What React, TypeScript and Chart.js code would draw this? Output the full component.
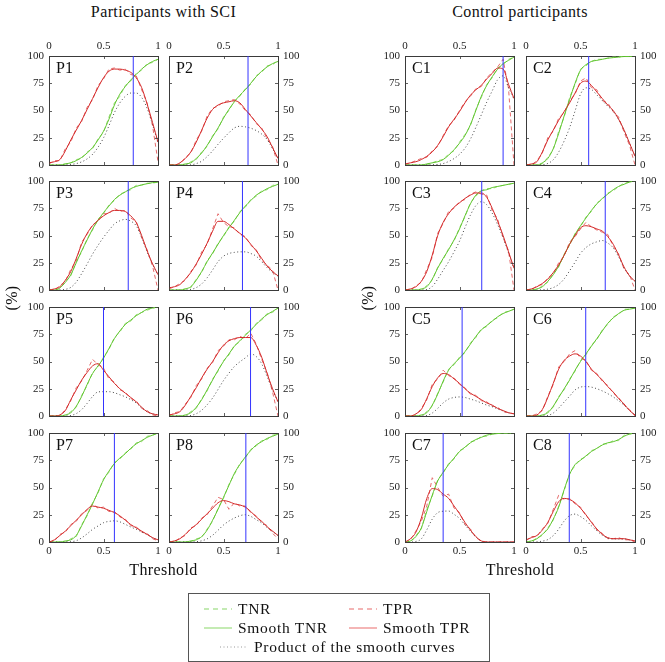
import { useEffect, useRef } from 'react'
import { Chart, registerables } from 'chart.js'

Chart.register(...registerables)

// thresholds shared by every panel
const THRESHOLDS = [0, 0.05, 0.1, 0.15, 0.2, 0.25, 0.3, 0.35, 0.4, 0.45, 0.5, 0.55, 0.6, 0.65, 0.7, 0.75, 0.8, 0.85, 0.9, 0.95, 1]
const X_TICKS = [0, 0.5, 1]
const Y_TICKS = [0, 25, 50, 75, 100]

// ---- participants with SCI ----
const P1_TNR_RAW = [0, 0, 0, 1, 2, 5, 6, 12, 15, 24, 30, 44, 57, 63, 73, 77, 84, 87, 93, 94, 97]
const P1_TPR_RAW = [1, 4, 4, 15, 21, 34, 40, 53, 60, 73, 79, 88, 89, 87, 88, 83, 82, 69, 57, 36, 3]
const P1_TNR = [0, 0, 0, 1, 2, 4, 7, 11, 16, 23, 31, 42, 55, 65, 72, 78, 83, 88, 92, 95, 97]
const P1_TPR = [2, 3, 5, 13, 23, 32, 41, 51, 61, 71, 80, 86, 88, 88, 87, 85, 80, 71, 56, 39, 21]
const P1_PROD = [0, 0, 0, 0.1, 0.5, 1.3, 2.9, 5.6, 9.8, 16.3, 24.8, 36, 48, 57, 63, 66, 66, 62, 52, 37, 20]

const P2_TNR_RAW = [0, 0, 0, 0, 3, 5, 12, 17, 27, 33, 44, 50, 59, 63, 70, 74, 82, 85, 91, 92, 96]
const P2_TPR_RAW = [0, 0, 1, 7, 11, 23, 31, 45, 52, 54, 58, 59, 60, 56, 50, 46, 38, 34, 24, 17, 0]
const P2_TNR = [0, 0, 0, 1, 2, 6, 11, 18, 26, 34, 43, 51, 58, 64, 69, 75, 81, 86, 90, 93, 95]
const P2_TPR = [0, 0, 2, 6, 12, 21, 32, 43, 51, 55, 57, 58, 59, 57, 51, 45, 39, 33, 26, 16, 6]
const P2_PROD = [0, 0, 0, 0.1, 0.2, 1.3, 3.5, 7.7, 13, 19, 24.5, 29.6, 34, 35.5, 35, 33.8, 31.6, 28.4, 23.4, 14.9, 5.7]

const P3_TNR_RAW = [0, 0, 1, 8, 13, 26, 35, 47, 55, 65, 70, 78, 82, 88, 90, 92, 96, 96, 98, 98, 99]
const P3_TPR_RAW = [0, 0, 4, 8, 19, 27, 44, 51, 60, 63, 70, 70, 75, 72, 73, 66, 63, 48, 37, 22, 0]
const P3_TNR = [0, 0, 2, 7, 14, 25, 36, 46, 56, 64, 71, 77, 83, 87, 90, 93, 95, 96.5, 97.5, 98.5, 99]
const P3_TPR = [0, 1, 3, 9, 17, 29, 42, 52, 59, 64, 68, 71, 73, 73, 72, 68, 62, 50, 36, 24, 14]
const P3_PROD = [0, 0, 0.1, 0.6, 2.4, 7.3, 15.1, 23.9, 33, 41, 48.3, 54.7, 60.6, 63.5, 64.8, 63.2, 58.9, 48.3, 35.1, 23.6, 13.9]

const P4_TNR_RAW = [0, 0, 0, 1, 2, 10, 16, 27, 33, 43, 49, 58, 63, 72, 76, 83, 86, 91, 92, 96, 97]
const P4_TPR_RAW = [1, 3, 6, 9, 17, 23, 35, 42, 56, 70, 62, 58, 57, 51, 49, 41, 37, 27, 23, 18, 0]
const P4_TNR = [0, 0, 0, 1, 3, 9, 17, 26, 34, 42, 50, 57, 64, 71, 77, 82, 87, 90, 93, 95, 97]
const P4_TPR = [2, 3, 5, 10, 16, 24, 33, 43, 54, 63, 63, 60, 56, 52, 48, 42, 36, 29, 22, 17, 13]
const P4_PROD = [0, 0, 0, 0.1, 0.5, 2.2, 5.6, 11.2, 18.4, 26, 31, 33.5, 34.5, 35, 35, 33.5, 31, 26, 20.5, 16.2, 12.6]

const P5_TNR_RAW = [0, 0, 0, 0, 4, 8, 19, 28, 40, 45, 54, 61, 72, 77, 85, 87, 93, 95, 97, 99, 100]
const P5_TPR_RAW = [0, 0, 0, 6, 14, 26, 32, 42, 52, 47, 44, 34, 31, 24, 22, 16, 14, 7, 5, 1, 0]
const P5_TNR = [0, 0, 0, 1, 3, 9, 18, 29, 39, 46, 53, 62, 71, 78, 84, 88, 92, 95, 98, 99, 100]
const P5_TPR = [0, 0, 1, 5, 15, 24, 33, 40, 46, 48, 42, 36, 30, 25, 21, 17, 13, 8, 4, 2, 1]
const P5_PROD = [0, 0, 0, 0, 0.5, 2.2, 5.9, 11.6, 17.9, 22.1, 22.3, 22.3, 21.3, 19.5, 17.6, 15, 12, 7.6, 3.9, 2, 1]

const P6_TNR_RAW = [0, 0, 0, 0, 4, 7, 16, 23, 34, 41, 51, 56, 65, 68, 75, 78, 85, 88, 94, 95, 99]
const P6_TPR_RAW = [0, 3, 4, 11, 17, 28, 34, 44, 49, 60, 64, 70, 70, 73, 71, 76, 66, 52, 40, 22, 0]
const P6_TNR = [0, 0, 0, 1, 3, 8, 15, 24, 33, 42, 50, 57, 64, 69, 74, 79, 84, 89, 93, 96, 99]
const P6_TPR = [1, 2, 4, 10, 18, 26, 35, 43, 50, 58, 65, 69, 71, 72, 72, 72, 65, 54, 39, 25, 13]
const P6_PROD = [0, 0, 0, 0.1, 0.5, 2.1, 5.3, 10.3, 16.5, 24.4, 32.5, 39.3, 45.4, 49.7, 53.3, 56.9, 54.6, 48, 36.3, 24, 12.9]

const P7_TNR_RAW = [0, 0, 0, 0, 3, 5, 16, 24, 36, 45, 58, 64, 73, 76, 82, 85, 91, 92, 97, 98, 100]
const P7_TPR_RAW = [0, 1, 7, 9, 16, 19, 26, 29, 35, 31, 32, 28, 28, 23, 21, 15, 14, 9, 8, 3, 1]
const P7_TNR = [0, 0, 0, 1, 2, 6, 15, 25, 35, 46, 57, 65, 72, 77, 81, 86, 90, 93, 96, 98, 100]
const P7_TPR = [0, 2, 6, 10, 15, 20, 25, 30, 33, 32, 31, 29, 27, 24, 20, 16, 13, 10, 7, 4, 2]
const P7_PROD = [0, 0, 0, 0.1, 0.3, 1.2, 3.8, 7.5, 11.6, 14.7, 17.7, 18.9, 19.4, 18.5, 16.2, 13.8, 11.7, 9.3, 6.7, 3.9, 2]

const P8_TNR_RAW = [0, 0, 0, 0, 0, 3, 4, 12, 19, 31, 40, 53, 62, 72, 77, 85, 88, 93, 94, 98, 99]
const P8_TPR_RAW = [0, 0, 4, 6, 13, 15, 22, 25, 33, 41, 39, 30, 36, 33, 33, 27, 24, 18, 15, 8, 3]
const P8_TNR = [0, 0, 0, 0, 1, 2, 5, 11, 20, 30, 41, 52, 63, 71, 78, 84, 89, 92, 95, 97, 99]
const P8_TPR = [0, 1, 3, 7, 12, 16, 21, 26, 31, 36, 38, 37, 35, 34, 32, 28, 23, 19, 14, 10, 6]
const P8_PROD = [0, 0, 0, 0, 0.1, 0.3, 1.1, 2.9, 6.2, 10.8, 15.6, 19.2, 22, 24.1, 25, 23.5, 20.5, 17.5, 13.3, 9.7, 5.9]

// ---- control participants ----
const C1_TNR_RAW = [0, 0, 0, 0, 0, 2, 4, 5, 10, 13, 21, 28, 36, 51, 62, 74, 80, 89, 92, 97, 99]
const C1_TPR_RAW = [0, 2, 4, 6, 7, 13, 17, 27, 36, 41, 50, 58, 63, 70, 72, 80, 85, 90, 97, 70, 0]
const C1_TNR = [0, 0, 0, 0, 1, 2, 3, 5, 9, 14, 20, 27, 37, 50, 63, 73, 81, 88, 93, 96, 99]
const C1_TPR = [1, 2, 3, 5, 8, 12, 18, 26, 35, 42, 49, 57, 64, 69, 73, 79, 84, 89, 88, 74, 61]
const C1_PROD = [0, 0, 0, 0, 0.1, 0.2, 0.5, 1.3, 3.2, 5.9, 9.8, 15.4, 23.7, 34.5, 46, 57.7, 68, 78.3, 81.8, 71, 60.4]

const C2_TNR_RAW = [0, 0, 0, 1, 7, 14, 31, 44, 62, 74, 88, 91, 95, 97, 97, 98, 99, 99, 100, 100, 100]
const C2_TPR_RAW = [0, 0, 4, 11, 25, 31, 43, 48, 59, 65, 77, 80, 71, 69, 59, 57, 49, 44, 30, 18, 0]
const C2_TNR = [0, 0, 0, 2, 6, 15, 29, 45, 60, 75, 87, 92, 95, 96, 97, 98, 98.5, 99, 99.5, 99.5, 100]
const C2_TPR = [0, 1, 3, 12, 23, 32, 41, 49, 57, 66, 75, 77, 73, 67, 61, 55, 50, 42, 32, 20, 8]
const C2_PROD = [0, 0, 0, 0.2, 1.4, 4.8, 11.9, 22, 34.2, 49.5, 65, 70.8, 69.4, 64.3, 59.2, 53.9, 49.3, 41.6, 31.8, 19.9, 8]

const C3_TNR_RAW = [0, 0, 0, 0, 4, 9, 21, 28, 38, 45, 57, 67, 80, 86, 91, 93, 93, 95, 96, 97, 98]
const C3_TPR_RAW = [0, 0, 4, 7, 19, 30, 52, 61, 72, 75, 81, 83, 88, 90, 88, 87, 73, 65, 48, 36, 0]
const C3_TNR = [0, 0, 0, 1, 3, 10, 20, 29, 37, 46, 56, 68, 79, 87, 91, 92, 94, 95, 96, 97, 98]
const C3_TPR = [0, 1, 3, 8, 17, 32, 50, 62, 70, 76, 80, 84, 87, 89, 89, 85, 75, 63, 50, 35, 20]
const C3_PROD = [0, 0, 0, 0.1, 0.5, 3.2, 10, 18, 25.9, 35, 44.8, 57.1, 68.7, 77.4, 81, 78.2, 70.5, 59.9, 48, 34, 19.6]

const C4_TNR_RAW = [0, 0, 0, 4, 7, 15, 21, 33, 41, 52, 58, 67, 72, 80, 83, 89, 91, 95, 98, 99, 100]
const C4_TPR_RAW = [0, 0, 4, 5, 11, 15, 25, 31, 44, 49, 56, 62, 58, 55, 53, 51, 40, 33, 19, 14, 0]
const C4_TNR = [0, 0, 1, 3, 8, 14, 22, 32, 42, 51, 59, 66, 73, 79, 84, 88, 92, 95, 97, 99, 100]
const C4_TPR = [0, 1, 3, 6, 10, 16, 23, 32, 42, 50, 57, 59, 58, 56, 54, 49, 42, 32, 21, 13, 8]
const C4_PROD = [0, 0, 0, 0.2, 0.8, 2.2, 5.1, 10.2, 17.6, 25.5, 33.6, 38.9, 42.3, 44.2, 45.4, 43.1, 38.6, 30.4, 20.4, 12.9, 8]

const C5_TNR_RAW = [0, 0, 0, 0, 4, 9, 21, 31, 43, 47, 54, 58, 67, 72, 80, 82, 88, 90, 95, 96, 98]
const C5_TPR_RAW = [0, 0, 1, 7, 15, 29, 34, 42, 37, 35, 29, 26, 20, 19, 14, 13, 9, 8, 4, 3, 2]
const C5_TNR = [0, 0, 0, 1, 3, 10, 20, 32, 42, 48, 53, 59, 66, 73, 79, 83, 87, 91, 94, 96, 98]
const C5_TPR = [0, 0, 2, 6, 16, 27, 35, 39, 38, 34, 30, 25, 21, 18, 15, 12, 10, 7, 5, 3, 2]
const C5_PROD = [0, 0, 0, 0.1, 0.5, 2.7, 7, 12, 15.5, 17, 17.5, 17, 15.5, 14, 12, 10, 8.5, 6.5, 4.7, 3, 2]

const C6_TNR_RAW = [0, 0, 0, 0, 4, 8, 18, 24, 34, 41, 51, 56, 65, 70, 79, 84, 91, 93, 98, 98, 99]
const C6_TPR_RAW = [0, 0, 2, 5, 18, 29, 45, 50, 57, 60, 53, 51, 42, 39, 32, 28, 21, 17, 10, 6, 0]
const C6_TNR = [0, 0, 0, 1, 3, 9, 17, 25, 33, 42, 50, 57, 64, 71, 78, 85, 90, 94, 97, 98, 99]
const C6_TPR = [0, 0, 1, 6, 17, 30, 43, 51, 55, 57, 55, 50, 43, 38, 33, 27, 22, 16, 11, 5, 1]
const C6_PROD = [0, 0, 0, 0.1, 0.5, 2.7, 7.3, 12.8, 18.2, 23.9, 26.5, 27, 26.5, 25, 23, 20.5, 17.5, 14, 10, 4.9, 1]

const C7_TNR_RAW = [0, 0, 6, 12, 30, 42, 57, 63, 72, 76, 84, 86, 92, 93, 97, 97, 99, 100, 100, 100, 100]
const C7_TPR_RAW = [0, 2, 10, 19, 33, 59, 50, 42, 44, 31, 27, 16, 12, 4, 1, 0, 0, 0, 0, 0, 0]
const C7_TNR = [0, 1, 5, 13, 28, 43, 56, 64, 71, 77, 83, 87, 91, 94, 96, 98, 99, 99.5, 100, 100, 100]
const C7_TPR = [0, 3, 9, 22, 40, 49, 48, 44, 40, 33, 26, 18, 11, 5, 1, 0, 0, 0, 0, 0, 0]
const C7_PROD = [0, 0, 0.5, 2.9, 11.2, 21, 26.9, 28.2, 28.4, 25.4, 21.6, 15.7, 10, 4.7, 1, 0, 0, 0, 0, 0, 0]

const C8_TNR_RAW = [0, 0, 4, 6, 13, 20, 33, 47, 63, 70, 76, 78, 84, 85, 90, 90, 93, 93, 98, 99, 100]
const C8_TPR_RAW = [1, 5, 5, 12, 17, 30, 43, 39, 40, 35, 32, 24, 19, 11, 8, 3, 3, 4, 2, 2, 0]
const C8_TNR = [0, 1, 3, 7, 12, 21, 32, 48, 62, 71, 75, 79, 83, 86, 89, 91, 92, 94, 97, 99, 100]
const C8_TPR = [2, 4, 6, 11, 18, 28, 37, 40, 39, 36, 31, 25, 18, 12, 7, 4, 3, 3, 3, 2, 1]
const C8_PROD = [0, 0, 0.2, 0.8, 2.2, 5.9, 11.8, 19.2, 24.2, 25.6, 23.3, 19.8, 14.9, 10.3, 6.2, 3.6, 2.8, 2.8, 2.9, 2, 1]

// chosen threshold per panel (vertical line)
const SCI_CUTOFFS = [0.773, 0.725, 0.727, 0.674, 0.5, 0.748, 0.6, 0.705]
const CONTROL_CUTOFFS = [0.9, 0.575, 0.704, 0.727, 0.524, 0.548, 0.35, 0.397]

const SCI_NAMES = ['P1', 'P2', 'P3', 'P4', 'P5', 'P6', 'P7', 'P8']
const CONTROL_NAMES = ['C1', 'C2', 'C3', 'C4', 'C5', 'C6', 'C7', 'C8']

const SCI_SERIES = [
  [P1_TNR_RAW, P1_TPR_RAW, P1_TNR, P1_TPR, P1_PROD],
  [P2_TNR_RAW, P2_TPR_RAW, P2_TNR, P2_TPR, P2_PROD],
  [P3_TNR_RAW, P3_TPR_RAW, P3_TNR, P3_TPR, P3_PROD],
  [P4_TNR_RAW, P4_TPR_RAW, P4_TNR, P4_TPR, P4_PROD],
  [P5_TNR_RAW, P5_TPR_RAW, P5_TNR, P5_TPR, P5_PROD],
  [P6_TNR_RAW, P6_TPR_RAW, P6_TNR, P6_TPR, P6_PROD],
  [P7_TNR_RAW, P7_TPR_RAW, P7_TNR, P7_TPR, P7_PROD],
  [P8_TNR_RAW, P8_TPR_RAW, P8_TNR, P8_TPR, P8_PROD],
]
const CONTROL_SERIES = [
  [C1_TNR_RAW, C1_TPR_RAW, C1_TNR, C1_TPR, C1_PROD],
  [C2_TNR_RAW, C2_TPR_RAW, C2_TNR, C2_TPR, C2_PROD],
  [C3_TNR_RAW, C3_TPR_RAW, C3_TNR, C3_TPR, C3_PROD],
  [C4_TNR_RAW, C4_TPR_RAW, C4_TNR, C4_TPR, C4_PROD],
  [C5_TNR_RAW, C5_TPR_RAW, C5_TNR, C5_TPR, C5_PROD],
  [C6_TNR_RAW, C6_TPR_RAW, C6_TNR, C6_TPR, C6_PROD],
  [C7_TNR_RAW, C7_TPR_RAW, C7_TNR, C7_TPR, C7_PROD],
  [C8_TNR_RAW, C8_TPR_RAW, C8_TNR, C8_TPR, C8_PROD],
]

const FONT = '"Liberation Serif", "Times New Roman", serif'
const GREEN = '#5fc52e'
const GREEN_LIGHT = '#98dc74'
const RED = '#d42a2a'
const RED_LIGHT = '#e56a6a'
const BLUE = '#3434ff'
const FRAME = '#3a3a3a'

Chart.defaults.font.family = FONT

const SIZE = 109 // plot area, px
const M = 30 // room around the plot area for the axes
const ROW_TOPS = [56, 181, 307, 433]
const SCI_COLS = [49, 169]
const CONTROL_COLS = [405, 526]

const innerTicks = {
  id: 'innerTicks',
  afterDatasetsDraw(chart: any) {
    const { ctx, chartArea: a, scales } = chart
    ctx.save()
    ctx.strokeStyle = FRAME
    ctx.lineWidth = 0.8
    ctx.beginPath()
    for (const v of X_TICKS) {
      const px = Math.round(scales.x.getPixelForValue(v)) + 0.5
      ctx.moveTo(px, a.top); ctx.lineTo(px, a.top + 3)
      ctx.moveTo(px, a.bottom); ctx.lineTo(px, a.bottom - 3)
    }
    for (const v of Y_TICKS) {
      const py = Math.round(scales.y.getPixelForValue(v)) + 0.5
      ctx.moveTo(a.left, py); ctx.lineTo(a.left + 3, py)
      ctx.moveTo(a.right, py); ctx.lineTo(a.right - 3, py)
    }
    ctx.stroke()
    ctx.restore()
  },
}

function axis(position: string, show: boolean, isX: boolean) {
  return {
    type: 'linear',
    position,
    min: 0,
    max: isX ? 1 : 100,
    ticks: {
      display: show,
      stepSize: isX ? 0.5 : 25,
      font: { family: FONT, size: 11 },
      color: '#222',
      padding: isX ? 3 : 5,
      callback: (v: number) => String(v),
    },
    grid: { display: false, drawTicks: false },
    border: { display: true, color: FRAME, width: 1 },
    afterFit: (s: any) => {
      if (isX) s.height = M
      else s.width = M
      s.paddingLeft = 0
      s.paddingRight = 0
      s.paddingTop = 0
      s.paddingBottom = 0
    },
  }
}

interface PanelProps {
  name: string
  series: number[][]
  cutoff: number
  left: number
  top: number
  row: number
  col: number
}

function Panel({ name, series, cutoff, left, top, row, col }: PanelProps) {
  const canvasRef = useRef<HTMLCanvasElement>(null)

  useEffect(() => {
    if (!canvasRef.current) return
    const pts = (ys: number[]) => ys.map((y, i) => ({ x: THRESHOLDS[i], y }))
    const [tnrRaw, tprRaw, tnr, tpr, prod] = series

    const chart = new Chart(canvasRef.current, {
      type: 'line',
      data: {
        datasets: [
          {
            data: [{ x: cutoff, y: 0 }, { x: cutoff, y: 100 }],
            borderColor: BLUE,
            borderWidth: 1,
          },
          { data: pts(tpr), borderColor: RED, borderWidth: 1, cubicInterpolationMode: 'monotone' },
          { data: pts(tnr), borderColor: GREEN, borderWidth: 1, cubicInterpolationMode: 'monotone' },
          {
            data: pts(prod),
            borderColor: '#333',
            borderWidth: 0.9,
            borderDash: [1, 2.5],
            cubicInterpolationMode: 'monotone',
          },
          { data: pts(tprRaw), borderColor: RED_LIGHT, borderWidth: 1, borderDash: [4, 3] },
          { data: pts(tnrRaw), borderColor: GREEN_LIGHT, borderWidth: 1, borderDash: [4, 3] },
        ] as any,
      },
      options: {
        responsive: false,
        animation: false,
        events: [],
        layout: { padding: 0 },
        elements: { point: { radius: 0 }, line: { tension: 0 } },
        plugins: { legend: { display: false }, tooltip: { enabled: false } },
        scales: {
          x: axis('bottom', row === 3, true),
          x2: axis('top', row === 0, true),
          y: axis('left', col === 0, false),
          y2: axis('right', col === 1, false),
        } as any,
      },
      plugins: [innerTicks],
    })

    return () => {
      chart.destroy()
    }
  }, [name, series, cutoff, row, col])

  return (
    <>
      <canvas
        ref={canvasRef}
        width={SIZE + 2 * M}
        height={SIZE + 2 * M}
        style={{ position: 'absolute', left: left - M, top: top - M }}
      />
      <div
        style={{
          position: 'absolute',
          left: left + 7,
          top: top + 4,
          fontFamily: FONT,
          fontSize: 16,
          lineHeight: '16px',
          color: '#111',
        }}
      >
        {name}
      </div>
    </>
  )
}

function Group({ title, names, seriesList, cutoffs, cols }: {
  title: string
  names: string[]
  seriesList: number[][][]
  cutoffs: number[]
  cols: number[]
}) {
  const center = (cols[0] + cols[1] + SIZE) / 2
  const text = { position: 'absolute' as const, fontFamily: FONT, fontSize: 16, color: '#111', letterSpacing: 0.4, whiteSpace: 'nowrap' as const }
  return (
    <>
      <div style={{ ...text, left: center - 100, width: 200, top: 3, textAlign: 'center' }}>{title}</div>
      {names.map((n, i) => (
        <Panel
          key={n}
          name={n}
          series={seriesList[i]}
          cutoff={cutoffs[i]}
          left={cols[i % 2]}
          top={ROW_TOPS[Math.floor(i / 2)]}
          row={Math.floor(i / 2)}
          col={i % 2}
        />
      ))}
      <div style={{ ...text, left: center - 60, width: 120, top: 561, textAlign: 'center' }}>Threshold</div>
      <div
        style={{
          ...text,
          left: cols[0] - 37 - 20,
          width: 40,
          top: 289,
          textAlign: 'center',
          transform: 'rotate(-90deg)',
        }}
      >
        (%)
      </div>
    </>
  )
}

function LegendRow({ left, top, color, dash, label }: { left: number; top: number; color: string; dash: string; label: string }) {
  return (
    <>
      <svg style={{ position: 'absolute', left, top: top - 2 }} width={28} height={4}>
        <line x1={0} y1={2} x2={28} y2={2} stroke={color} strokeWidth={dash === 'dotted' ? 1 : 1.5} strokeDasharray={dash === 'dashed' ? '5 4' : dash === 'dotted' ? '1 2.5' : undefined} />
      </svg>
      <div
        style={{
          position: 'absolute',
          left: left + 34,
          top: top - 10,
          fontFamily: FONT,
          fontSize: 15.5,
          letterSpacing: 0.7,
          lineHeight: '20px',
          color: '#111',
          whiteSpace: 'nowrap',
        }}
      >
        {label}
      </div>
    </>
  )
}

export default function App() {
  return (
    <div style={{ position: 'absolute', left: 0, top: 0, width: 665, height: 662, background: '#fff', overflow: 'hidden' }}>
      <Group title="Participants with SCI" names={SCI_NAMES} seriesList={SCI_SERIES} cutoffs={SCI_CUTOFFS} cols={SCI_COLS} />
      <Group title="Control participants" names={CONTROL_NAMES} seriesList={CONTROL_SERIES} cutoffs={CONTROL_CUTOFFS} cols={CONTROL_COLS} />
      <div
        style={{
          position: 'absolute',
          left: 188,
          top: 593,
          width: 300,
          height: 67,
          border: '1px solid #555',
        }}
      >
        <LegendRow left={15} top={15} color="#b0e49a" dash="dashed" label="TNR" />
        <LegendRow left={160} top={15} color="#f09c9c" dash="dashed" label="TPR" />
        <LegendRow left={15} top={34} color="#b0e49a" dash="solid" label="Smooth TNR" />
        <LegendRow left={160} top={34} color="#f09c9c" dash="solid" label="Smooth TPR" />
        <LegendRow left={31} top={53} color="#999" dash="dotted" label="Product of the smooth curves" />
      </div>
    </div>
  )
}
